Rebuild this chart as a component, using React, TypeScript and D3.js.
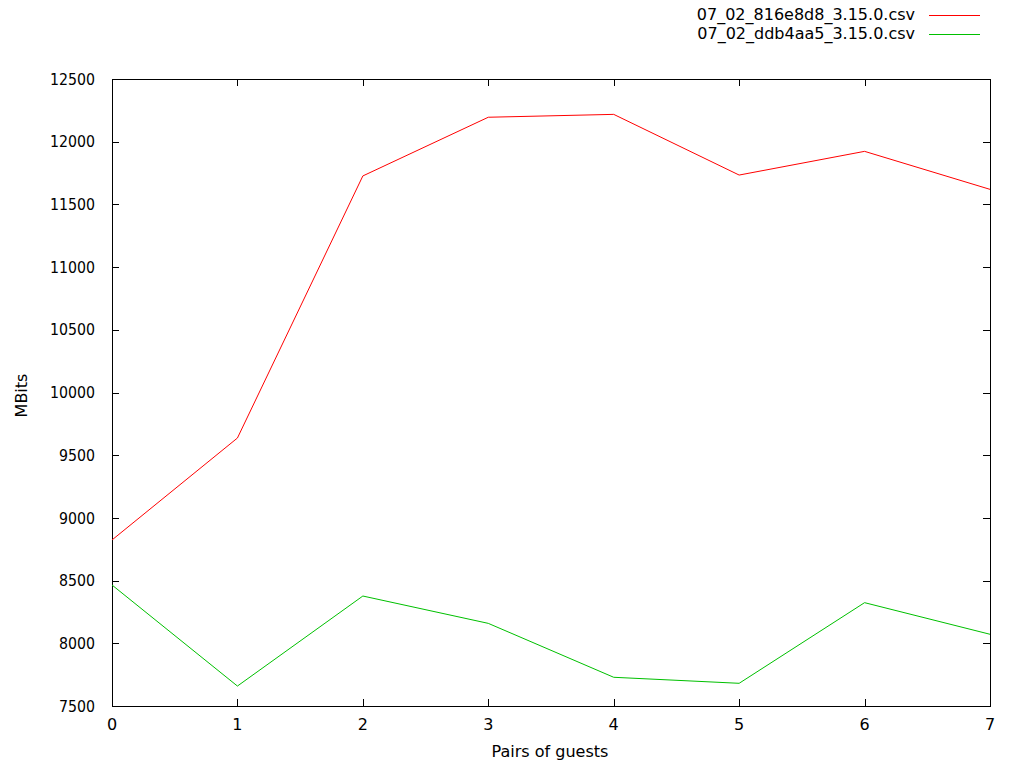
import React from "react";
import * as d3 from "d3";

const xValues = [0, 1, 2, 3, 4, 5, 6, 7];
const redSeries = [8824, 9637, 11727, 12195, 12218, 11734, 11923, 11620];
const greenSeries = [8465, 7659, 8377, 8159, 7729, 7681, 8324, 8072];
const seriesNames = ["07_02_816e8d8_3.15.0.csv", "07_02_ddb4aa5_3.15.0.csv"];
const seriesColors = ["#ff0000", "#00c000"];
const yTicks = [7500, 8000, 8500, 9000, 9500, 10000, 10500, 11000, 11500, 12000, 12500];
const xTicks = [0, 1, 2, 3, 4, 5, 6, 7];

const W = 1024, H = 768;
const L = 112, R = 990, T = 79, B = 706;
const FONT = "DejaVu Sans, sans-serif";
const FS = 16;

export default function App() {
  const x = d3.scaleLinear().domain([0, 7]).range([L, R]);
  const y = d3.scaleLinear().domain([7500, 12500]).range([B, T]);
  const line = d3.line<number>().x((_, i) => x(xValues[i])).y((d) => y(d));
  const series = [redSeries, greenSeries];
  const tick = 7;
  return (
    <svg width={W} height={H} style={{ position: "absolute", left: 0, top: 0, background: "#fff" }}>
      <rect x={0} y={0} width={W} height={H} fill="#fff" />
      <g shapeRendering="crispEdges" stroke="#000" strokeWidth={1}>
        {yTicks.map((t) => (
          <g key={t}>
            <line x1={L} x2={L + tick} y1={Math.round(y(t)) + 0.5} y2={Math.round(y(t)) + 0.5} />
            <line x1={R - tick} x2={R} y1={Math.round(y(t)) + 0.5} y2={Math.round(y(t)) + 0.5} />
          </g>
        ))}
        {xTicks.map((t) => (
          <g key={t}>
            <line x1={Math.round(x(t)) + 0.5} x2={Math.round(x(t)) + 0.5} y1={B} y2={B - tick} />
            <line x1={Math.round(x(t)) + 0.5} x2={Math.round(x(t)) + 0.5} y1={T} y2={T + tick} />
          </g>
        ))}
        <rect x={L + 0.5} y={T + 0.5} width={R - L} height={B - T} fill="none" />
      </g>
      <g fontFamily={FONT} fontSize={FS} fill="#000">
        {yTicks.map((t) => (
          <text key={t} x={L - 17} y={y(t)} dy="0.35em" textAnchor="end" textLength={t >= 10000 ? 45 : 36} lengthAdjust="spacingAndGlyphs">{t}</text>
        ))}
        {xTicks.map((t) => (
          <text key={t} x={x(t)} y={730} textAnchor="middle">{t}</text>
        ))}
        <text x={550} y={757} textAnchor="middle">Pairs of guests</text>
        <text transform={`translate(27, 395.5) rotate(-90)`} textAnchor="middle">MBits</text>
        {seriesNames.map((n, i) => (
          <text key={n} x={915} y={14.5 + 18.5 * i} dy="0.35em" textAnchor="end">{n}</text>
        ))}
      </g>
      {seriesNames.map((n, i) => (
        <line key={n} x1={929} x2={980} y1={15.5 + 18.5 * i} y2={15.5 + 18.5 * i} stroke={seriesColors[i]} strokeWidth={1} shapeRendering="crispEdges" />
      ))}
      {series.map((s, i) => (
        <path key={i} d={line(s) || ""} fill="none" stroke={seriesColors[i]} strokeWidth={1} />
      ))}
    </svg>
  );
}
